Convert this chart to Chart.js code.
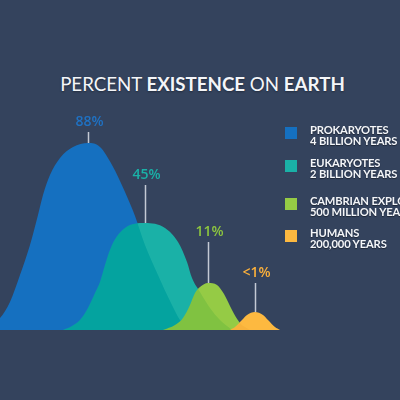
<!DOCTYPE html>
<html lang="en">
<head>
  <meta charset="UTF-8">
  <title>Percent Existence on Earth</title>
  <script src="https://cdn.jsdelivr.net/npm/chart.js"></script>
  <style>
    html, body { margin: 0; padding: 0; }
    body { background: #34435d; width: 400px; height: 400px; overflow: hidden; font-family: Lato, sans-serif; }
    #wrap { position: relative; width: 400px; height: 400px; }
    #title { position: absolute; left: 0; top: 75px; width: 405px; text-align: center;
      font-size: 18.7px; line-height: 19px; color: #f4f6f9; font-weight: 400;
      text-shadow: 0 1px 2px rgba(0,0,0,0.35); white-space: nowrap; }
    #title b { font-weight: 700; }
    #plot { position: absolute; left: 0; top: 0; width: 400px; height: 330px; }
    .row { position: absolute; left: 285px; white-space: nowrap; }
    .sw { position: absolute; left: 0; top: 3px; width: 12px; height: 12px; }
    .txt { position: absolute; left: 25px; top: 0; font-size: 11.2px; line-height: 11px;
      font-weight: 700; letter-spacing: -0.15px; color: #f4f6f9;
      text-shadow: 0 1px 1px rgba(0,0,0,0.45); }
  </style>
</head>
<body>
  <div id="wrap">
    <div id="title">PERCENT <b>EXISTENCE</b> ON <b>EARTH</b></div>
    <div id="plot"><canvas id="grafico"></canvas></div>
    <div id="legend"></div>
  </div>

  <script>
    // curve outlines (x in px, height above baseline)
    const prokX = [-20, 0, 10, 20, 30, 38, 43, 50, 60, 73, 88, 100, 112, 125, 135, 145, 158, 172, 180, 188];
    const prokY = [0, 12, 28, 55, 85, 115, 135, 155, 172, 183, 187, 183, 165, 138, 114, 85, 55, 25, 10, 0];
    const eukX = [63, 72, 80, 88, 95, 100, 105, 112, 125, 145, 165, 178, 187, 192, 200, 210, 220, 232];
    const eukY = [0, 4, 10, 22, 37, 48, 65, 85, 102, 107, 102, 88, 68, 52, 38, 22, 10, 0];
    const cambX = [163, 175, 183, 190, 195, 200, 208, 217, 224, 232, 240, 250];
    const cambY = [0, 5, 12, 25, 37, 43, 47, 45, 36, 20, 7, 0];
    const humX = [230, 235, 242, 247, 255, 263, 268, 275, 280];
    const humY = [0, 3, 10, 15, 18, 15, 10, 3, 0];

    const percents = ["88%", "45%", "11%", "<1%"];
    const names = ["PROKARYOTES", "EUKARYOTES", "CAMBRIAN EXPLOSION", "HUMANS"];
    const spans = ["4 BILLION YEARS", "2 BILLION YEARS", "500 MILLION YEARS", "200,000 YEARS"];

    const cores = ["#1570c0", "#1ab1a7", "#95cb45", "#fdb940"];
    const coresSob = ["#1570c0", "#04a39f", "#80c241", "#f8b23b"]; // where a curve sits over the previous one
    const corTexto = ["#1f72c4", "#1ab1a7", "#8dc63f", "#fbb03b"];
    const linhaLen = [11, 38, 41, 29];
    const legendTop = [124, 157, 195, 227];

    function camada(xs, ys, cor, blend, ordem) {
      return {
        data: xs.map((x, i) => ({ x: x, y: ys[i] })),
        backgroundColor: cor,
        borderWidth: 0,
        pointRadius: 0,
        fill: "origin",
        cubicInterpolationMode: "monotone",
        order: ordem,
        blend: blend
      };
    }

    const curvas = [[prokX, prokY], [eukX, eukY], [cambX, cambY], [humX, humY]];
    const datasets = [camada(prokX, prokY, cores[0], "source-over", 20)];
    for (let k = 1; k < curvas.length; k++) {
      const o = 20 - k * 2;
      datasets.push(camada(curvas[k][0], curvas[k][1], coresSob[k], "source-atop", o));
      datasets.push(camada(curvas[k][0], curvas[k][1], cores[k], "destination-over", o - 1));
    }

    // composite mode per dataset, set before the filler paints each one
    const camadas = {
      id: "camadas",
      beforeDatasetsDraw(chart) {
        const metas = chart.getSortedVisibleDatasetMetas();
        chart.ctx.globalCompositeOperation = chart.data.datasets[metas[metas.length - 1].index].blend;
      },
      afterDatasetDraw(chart, args) {
        const metas = chart.getSortedVisibleDatasetMetas();
        const pos = metas.findIndex(m => m.index === args.index);
        if (pos > 0) chart.ctx.globalCompositeOperation = chart.data.datasets[metas[pos - 1].index].blend;
      },
      afterDatasetsDraw(chart) {
        const ctx = chart.ctx;
        ctx.globalCompositeOperation = "source-over";
        const sx = chart.scales.x, sy = chart.scales.y;
        curvas.forEach((c, k) => {
          let m = 0;
          c[1].forEach((v, i) => { if (v > c[1][m]) m = i; });
          const px = Math.round(sx.getPixelForValue(c[0][m])) + 0.5;
          const py = sy.getPixelForValue(c[1][m]);
          const topo = py - linhaLen[k];
          ctx.save();
          ctx.strokeStyle = "#c3c9d4";
          ctx.lineWidth = 1.5;
          ctx.beginPath();
          ctx.moveTo(px, py);
          ctx.lineTo(px, topo);
          ctx.stroke();
          ctx.fillStyle = corTexto[k];
          ctx.font = "600 14px 'Open Sans'";
          ctx.textAlign = "center";
          ctx.textBaseline = "alphabetic";
          ctx.fillText(percents[k], px + 1, topo - 6);
          ctx.restore();
        });
      }
    };

    new Chart(document.getElementById("grafico"), {
      type: "line",
      data: { datasets: datasets },
      options: {
        responsive: true,
        maintainAspectRatio: false,
        animation: false,
        layout: { padding: 0 },
        scales: {
          x: { type: "linear", min: 0, max: 400, display: false },
          y: { min: 0, max: 330, display: false }
        },
        plugins: { legend: { display: false }, tooltip: { enabled: false } }
      },
      plugins: [camadas]
    });

    const legenda = document.getElementById("legend");
    names.forEach((n, k) => {
      const row = document.createElement("div");
      row.className = "row";
      row.style.top = legendTop[k] + "px";
      row.innerHTML = '<div class="sw" style="background:' + cores[k] + '"></div>' +
        '<div class="txt">' + n + "<br>" + spans[k] + "</div>";
      legenda.appendChild(row);
    });
  </script>
</body>
</html>
